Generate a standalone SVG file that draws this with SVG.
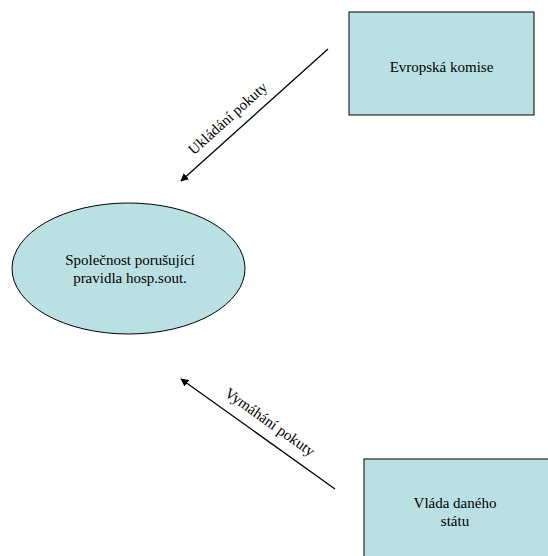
<svg xmlns="http://www.w3.org/2000/svg" width="548" height="556" viewBox="0 0 548 556">
<defs>
<style>
.node{fill:#bbe0e3;stroke:#000;stroke-width:1}
.lbl{font-family:"Liberation Serif","Times New Roman",serif;font-size:15px;fill:#000;text-anchor:middle}
.conn{stroke:#000;stroke-width:1.3;fill:none;marker-end:url(#arr)}
</style>
<marker id="arr" viewBox="0 0 10 10" refX="9" refY="5" markerWidth="8" markerHeight="8" markerUnits="userSpaceOnUse" orient="auto">
<path d="M0,0 L10,5 L0,10 Z" fill="#000"/>
</marker>
</defs>
<rect width="548" height="556" fill="#fff"/>
<g id="komise">
<rect class="node" x="349" y="12" width="185" height="103"/>
<text class="lbl" x="441.5" y="72">Evropská komise</text>
</g>
<g id="spolecnost">
<ellipse class="node" cx="128.5" cy="268.5" rx="116.5" ry="65.5"/>
<text class="lbl" x="130" y="265">Společnost porušující</text>
<text class="lbl" x="130" y="283">pravidla hosp.sout.</text>
</g>
<g id="vlada">
<rect class="node" x="364" y="459" width="190" height="110"/>
<text class="lbl" x="455" y="508">Vláda daného</text>
<text class="lbl" x="455" y="526">státu</text>
</g>
<g id="connectors">
<line class="conn" x1="328" y1="49" x2="181" y2="181"/>
<line class="conn" x1="335" y1="489" x2="181" y2="379"/>
<text class="lbl" transform="translate(231,122) rotate(-42)">Ukládání pokuty</text>
<text class="lbl" transform="translate(267,426) rotate(35.5)">Vymáhání pokuty</text>
</g>
</svg>
